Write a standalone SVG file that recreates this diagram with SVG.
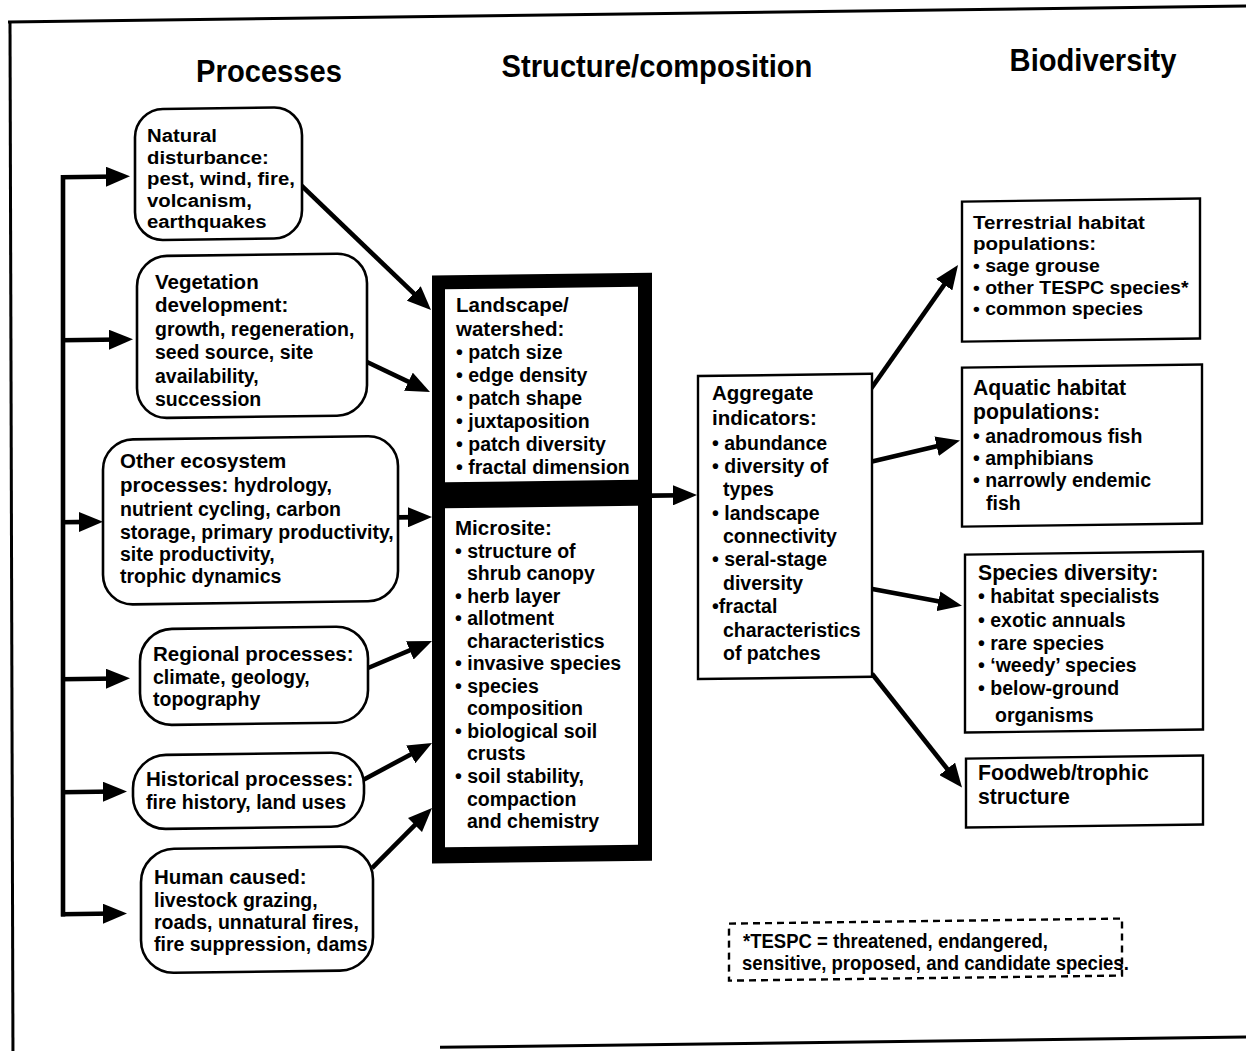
<svg xmlns="http://www.w3.org/2000/svg" width="1246" height="1051" viewBox="0 0 1246 1051">
  <style>
    text { font-family: "Liberation Sans", Arial, Helvetica, sans-serif; font-weight: bold; fill: #000; font-size: 19.5px; }
    .h { font-size: 20.5px; }
    .h2 { font-size: 21.2px; }
    .hd { font-size: 31px; }
    .nat { font-size: 19px; }
    .tt { font-size: 19.2px; }
    .tb { font-size: 18.2px; }
    .fn { font-size: 19.5px; }
    .rbox { fill: #fff; stroke: #000; stroke-width: 2.6; }
    .box { fill: #fff; stroke: #000; stroke-width: 2.4; }
    .wire { fill: none; stroke: #000; stroke-width: 4.6; }
    .arrow { fill: none; stroke: #000; stroke-width: 4.6; marker-end: url(#head); }
    .frame { fill: none; stroke: #000; stroke-width: 3; }
  </style>
  <defs>
    <marker id="head" viewBox="0 0 24 20" refX="12" refY="10" markerWidth="24" markerHeight="20" markerUnits="userSpaceOnUse" orient="auto">
      <path d="M0,0 L24,10 L0,20 z" fill="#000"/>
    </marker>
  </defs>
  <rect x="0" y="0" width="1246" height="1051" fill="#fff"/>

  <!-- shapes and connectors share a slight tilt; labels are offset per node to follow it -->
  <g transform="translate(623 0) skewY(-0.74) translate(-623 0)">
    <g id="frame">
      <path class="frame" d="M8,14 H1250"/>
      <path class="frame" d="M10,14 L13,1060"/>
      <path class="frame" d="M440,1045 H1250"/>
    </g>

    <g id="connectors">
      <path class="wire" stroke-linecap="square" d="M63,170 V907"/>
      <path class="arrow" d="M61,170 H118"/>
      <path class="arrow" d="M61,333 H121"/>
      <path class="arrow" d="M61,515 H91"/>
      <path class="arrow" d="M61,672 H118"/>
      <path class="arrow" d="M61,785 H115"/>
      <path class="arrow" d="M61,907 H115"/>

      <path class="arrow" d="M301,181 L422.4,299.1"/>
      <path class="arrow" d="M367,358.7 L419.2,384.2"/>
      <path class="arrow" d="M398,514.5 H420"/>
      <path class="arrow" d="M368,664.7 L420.9,643.05"/>
      <path class="arrow" d="M363,776.6 L421.4,746.1"/>
      <path class="arrow" d="M372,864.8 L423.5,813.9"/>

      <path class="arrow" d="M652,496 H685"/>

      <path class="arrow" d="M871,392 L951.1,279.1"/>
      <path class="arrow" d="M871,465 L948.3,447.6"/>
      <path class="arrow" d="M871,592 L950.2,607.7"/>
      <path class="arrow" d="M872,677 L954.6,782.5"/>
    </g>

    <g id="natural-disturbance-box"><rect class="rbox" x="135" y="103" width="167" height="131" rx="28"/></g>
    <g id="vegetation-development-box"><rect class="rbox" x="137" y="250" width="230" height="162" rx="30"/></g>
    <g id="other-ecosystem-processes-box"><rect class="rbox" x="103" y="433" width="295" height="165" rx="30"/></g>
    <g id="regional-processes-box"><rect class="rbox" x="140" y="623" width="228" height="96" rx="32"/></g>
    <g id="historical-processes-box"><rect class="rbox" x="133" y="749" width="231" height="74" rx="33"/></g>
    <g id="human-caused-box"><rect class="rbox" x="141" y="843" width="232" height="124" rx="33"/></g>

    <g id="structure-composition-box">
      <rect x="432" y="273" width="220" height="588" fill="#000"/>
      <rect x="445" y="287" width="193" height="193" fill="#fff"/>
      <rect x="445" y="506" width="193" height="339" fill="#fff"/>
    </g>

    <g id="aggregate-indicators-box"><rect class="box" x="698" y="377" width="174" height="303"/></g>
    <g id="terrestrial-habitat-box"><rect class="box" x="962" y="206" width="238" height="140"/></g>
    <g id="aquatic-habitat-box"><rect class="box" x="962" y="372" width="240" height="159"/></g>
    <g id="species-diversity-box"><rect class="box" x="965" y="559" width="238" height="178"/></g>
    <g id="foodweb-trophic-box"><rect class="box" x="966" y="763" width="237" height="69"/></g>
    <g id="footnote-box">
      <rect x="729" y="925" width="393" height="57" fill="none" stroke="#000" stroke-width="2.4" stroke-dasharray="7 5"/>
    </g>
  </g>

  <!-- labels -->
  <g id="headings">
    <text class="hd" text-anchor="middle" transform="translate(269 4.6) scale(.94 1)" x="0" y="77">Processes</text>
    <text class="hd" text-anchor="middle" transform="translate(657 -0.4) scale(.94 1)" x="0" y="77">Structure/composition</text>
    <text class="hd" text-anchor="middle" transform="translate(1093 -6.1) scale(.94 1)" x="0" y="77">Biodiversity</text>
  </g>

  <g id="natural-disturbance">
    <text class="nat" transform="translate(147 5.2) scale(1.07 1)">
      <tspan x="0" y="137">Natural</tspan>
      <tspan x="0" y="158.5">disturbance:</tspan>
      <tspan x="0" y="180">pest, wind, fire,</tspan>
      <tspan x="0" y="201.5">volcanism,</tspan>
      <tspan x="0" y="223">earthquakes</tspan>
    </text>
  </g>

  <g id="vegetation-development">
    <text transform="translate(0 4.7)">
      <tspan class="h" x="155" y="284">Vegetation</tspan>
      <tspan class="h" x="155" y="307.5">development:</tspan>
      <tspan x="155" y="331">growth, regeneration,</tspan>
      <tspan x="155" y="354.5">seed source, site</tspan>
      <tspan x="155" y="378">availability,</tspan>
      <tspan x="155" y="401">succession</tspan>
    </text>
  </g>

  <g id="other-ecosystem-processes">
    <text transform="translate(0 4.7)">
      <tspan class="h" x="120" y="463">Other ecosystem</tspan>
      <tspan x="120" y="487"><tspan class="h">processes:</tspan> hydrology,</tspan>
      <tspan x="120" y="511">nutrient cycling, carbon</tspan>
      <tspan x="120" y="534">storage, primary productivity,</tspan>
      <tspan x="120" y="556">site productivity,</tspan>
      <tspan x="120" y="578">trophic dynamics</tspan>
    </text>
  </g>

  <g id="regional-processes">
    <text transform="translate(0 4.7)">
      <tspan class="h" x="153" y="656">Regional processes:</tspan>
      <tspan x="153" y="679">climate, geology,</tspan>
      <tspan x="153" y="701">topography</tspan>
    </text>
  </g>

  <g id="historical-processes">
    <text transform="translate(0 4.8)">
      <tspan class="h" x="146" y="781.5">Historical processes:</tspan>
      <tspan x="146" y="804">fire history, land uses</tspan>
    </text>
  </g>

  <g id="human-caused">
    <text transform="translate(0 4.7)">
      <tspan class="h" x="154" y="879.5">Human caused:</tspan>
      <tspan x="154" y="902">livestock grazing,</tspan>
      <tspan x="154" y="924">roads, unnatural fires,</tspan>
      <tspan x="154" y="946">fire suppression, dams</tspan>
    </text>
  </g>

  <g id="structure-composition">
    <text transform="translate(0 1)">
      <tspan class="h" x="456" y="311">Landscape/</tspan>
      <tspan class="h" x="456" y="335">watershed:</tspan>
      <tspan x="456" y="358">• patch size</tspan>
      <tspan x="456" y="381">• edge density</tspan>
      <tspan x="456" y="404">• patch shape</tspan>
      <tspan x="456" y="427">• juxtaposition</tspan>
      <tspan x="456" y="450">• patch diversity</tspan>
      <tspan x="456" y="473">• fractal dimension</tspan>
    </text>
    <text transform="translate(0 1)">
      <tspan class="h" x="455" y="534">Microsite:</tspan>
      <tspan x="455" y="556.5">• structure of</tspan>
      <tspan x="467" y="579">shrub canopy</tspan>
      <tspan x="455" y="601.6">• herb layer</tspan>
      <tspan x="455" y="624.2">• allotment</tspan>
      <tspan x="467" y="646.7">characteristics</tspan>
      <tspan x="455" y="669.2">• invasive species</tspan>
      <tspan x="455" y="691.8">• species</tspan>
      <tspan x="467" y="714.3">composition</tspan>
      <tspan x="455" y="736.9">• biological soil</tspan>
      <tspan x="467" y="759.4">crusts</tspan>
      <tspan x="455" y="781.9">• soil stability,</tspan>
      <tspan x="467" y="804.5">compaction</tspan>
      <tspan x="467" y="827">and chemistry</tspan>
    </text>
  </g>

  <g id="aggregate-indicators">
    <text transform="translate(0 -2.1)">
      <tspan class="h" x="712" y="402">Aggregate</tspan>
      <tspan class="h" x="712" y="427">indicators:</tspan>
      <tspan x="712" y="452">• abundance</tspan>
      <tspan x="712" y="475">• diversity of</tspan>
      <tspan x="723" y="498">types</tspan>
      <tspan x="712" y="522">• landscape</tspan>
      <tspan x="723" y="545">connectivity</tspan>
      <tspan x="712" y="568">• seral-stage</tspan>
      <tspan x="723" y="592">diversity</tspan>
      <tspan x="712" y="615">•fractal</tspan>
      <tspan x="723" y="639">characteristics</tspan>
      <tspan x="723" y="662">of patches</tspan>
    </text>
  </g>

  <g id="terrestrial-habitat">
    <text transform="translate(973 -5.9) scale(1.07 1)">
      <tspan class="tt" x="0" y="234.5">Terrestrial habitat</tspan>
      <tspan class="tt" x="0" y="256">populations:</tspan>
      <tspan class="tb" x="0" y="278">• sage grouse</tspan>
      <tspan class="tb" x="0" y="299.5">• other TESPC species*</tspan>
      <tspan class="tb" x="0" y="321">• common species</tspan>
    </text>
  </g>

  <g id="aquatic-habitat">
    <text transform="translate(0 -5.7)">
      <tspan class="h2" x="973" y="401">Aquatic habitat</tspan>
      <tspan class="h2" x="973" y="425">populations:</tspan>
      <tspan x="973" y="449">• anadromous fish</tspan>
      <tspan x="973" y="471">• amphibians</tspan>
      <tspan x="973" y="493">• narrowly endemic</tspan>
      <tspan x="986" y="516">fish</tspan>
    </text>
  </g>

  <g id="species-diversity">
    <text transform="translate(0 -5.8)">
      <tspan class="h2" x="978" y="586">Species diversity:</tspan>
      <tspan x="978" y="609">• habitat specialists</tspan>
      <tspan x="978" y="633">• exotic annuals</tspan>
      <tspan x="978" y="656">• rare species</tspan>
      <tspan x="978" y="678">• ‘weedy’ species</tspan>
      <tspan x="978" y="701">• below-ground</tspan>
      <tspan x="995" y="728">organisms</tspan>
    </text>
  </g>

  <g id="foodweb-trophic">
    <text transform="translate(0 -5.6)">
      <tspan class="h2" x="978" y="786">Foodweb/trophic</tspan>
      <tspan class="h2" x="978" y="810">structure</tspan>
    </text>
  </g>

  <g id="footnote">
    <text class="fn" transform="translate(743 -4) scale(.95 1)">
      <tspan x="0" y="952">*TESPC = threatened, endangered,</tspan>
      <tspan x="-1" y="974">sensitive, proposed, and candidate species.</tspan>
    </text>
  </g>
</svg>
